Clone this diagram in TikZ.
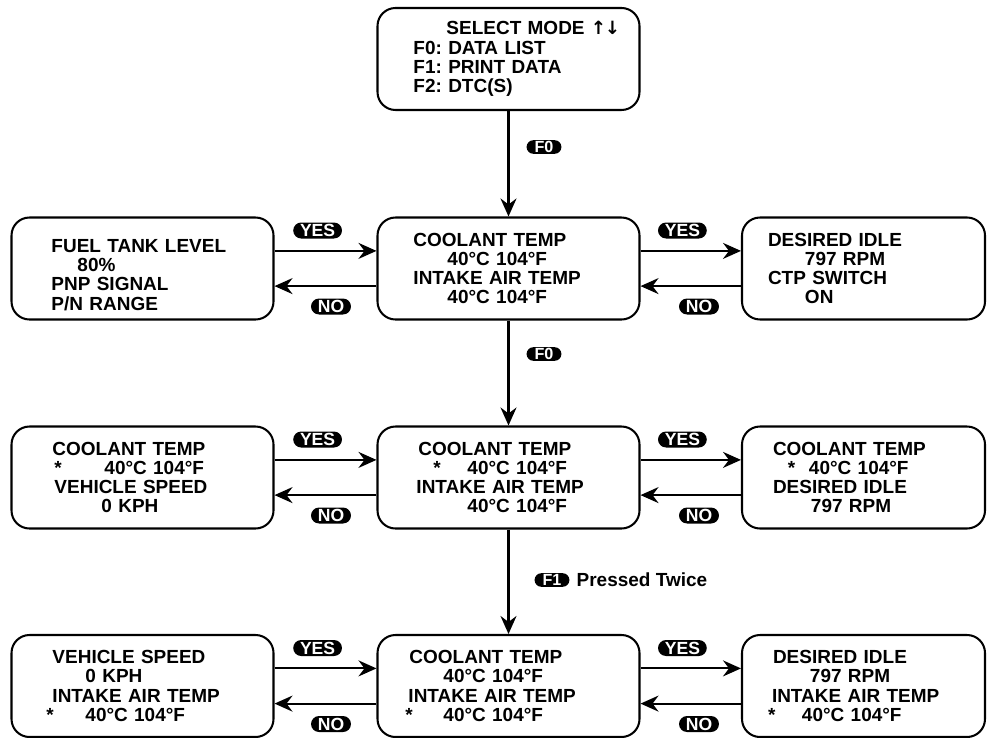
\documentclass[tikz,border=0pt]{standalone}
\usepackage{fontspec}
\setmainfont{Liberation Sans}
\newfontfamily\symfont{DejaVu Sans}
\usetikzlibrary{arrows.meta,positioning}
\frenchspacing
\newlength{\pxu}
\setlength{\pxu}{0.025cm}
\newcommand{\lpos}[2]{\makebox[0pt][l]{\hspace*{#1\pxu}#2}}
\tikzset{
  screen/.style={draw, line width=1.45pt, rounded corners=0.45cm, align=left,
    text width=6.55cm, minimum height=2.55cm, inner xsep=0pt,
    font=\fontsize{13.5}{13.7}\selectfont\bfseries},
  screenR/.style={screen, text width=6.075cm},
  key/.style={fill=black, text=white, rounded corners=0.2cm, inner xsep=0.17cm,
    inner ysep=0pt, minimum height=0.4cm, font=\fontsize{12.5}{12.5}\selectfont\bfseries},
  fkey/.style={key, minimum height=0.34cm, inner xsep=0.2cm, rounded corners=0.17cm,
    font=\fontsize{11.5}{11.5}\selectfont\bfseries},
  flow/.style={line width=1.45pt, -{Stealth[length=0.45cm,width=0.4cm,inset=0.15cm]}}
}
\begin{document}
\begin{tikzpicture}
  \useasboundingbox (0,0) rectangle (24.8,-18.45);

  % Mode menu
  \node[screen] (menu) at (12.7125,-1.475) {\lpos{69}{SELECT MODE {\symfont\fontsize{13}{13}\selectfont ↑\kern-1pt↓}}\\
    \lpos{36}{F0: DATA LIST}\\ \lpos{36}{F1: PRINT DATA}\\ \lpos{36}{F2: DTC(S)}};

  % Data list screens
  \node[screen] (dl1) at (3.5625,-6.7125) {\lpos{40}{\rule{0pt}{26\pxu}FUEL TANK LEVEL}\\ \lpos{66}{80\%}\\
    \lpos{40}{PNP SIGNAL}\\ \lpos{40}{P/N RANGE}};
  \node[screen] (dc1) at (12.7125,-6.7125) {\lpos{36}{COOLANT TEMP}\\ \lpos{70}{40°C 104°F}\\
    \lpos{36}{INTAKE AIR TEMP}\\ \lpos{70}{40°C 104°F}};
  \node[screenR] (dr1) at (21.5875,-6.7125) {\lpos{26}{DESIRED IDLE}\\ \lpos{63}{797 RPM}\\
    \lpos{26}{CTP SWITCH}\\ \lpos{63}{ON}};

  % Selected item screens
  \node[screen] (dl2) at (3.5625,-11.9375) {\lpos{41}{COOLANT TEMP}\\ \lpos{43}{*}\lpos{93}{40°C 104°F}\\
    \lpos{43}{VEHICLE SPEED}\\ \lpos{90}{0 KPH}};
  \node[screen] (dc2) at (12.7125,-11.9375) {\lpos{41}{COOLANT TEMP}\\ \lpos{56}{*}\lpos{90}{40°C 104°F}\\
    \lpos{39}{INTAKE AIR TEMP}\\ \lpos{90}{40°C 104°F}};
  \node[screenR] (dr2) at (21.5875,-11.9375) {\lpos{31}{COOLANT TEMP}\\ \lpos{46}{*}\lpos{67}{40°C 104°F}\\
    \lpos{31}{DESIRED IDLE}\\ \lpos{69}{797 RPM}};

  % Print screens
  \node[screen] (dl3) at (3.5625,-17.15) {\lpos{41}{VEHICLE SPEED}\\ \lpos{74}{0 KPH}\\
    \lpos{41}{INTAKE AIR TEMP}\\ \lpos{35}{*}\lpos{74}{40°C 104°F}};
  \node[screen] (dc3) at (12.7125,-17.15) {\lpos{32}{COOLANT TEMP}\\ \lpos{66}{40°C 104°F}\\
    \lpos{31}{INTAKE AIR TEMP}\\ \lpos{28}{*}\lpos{66}{40°C 104°F}};
  \node[screenR] (dr3) at (21.5875,-17.15) {\lpos{31}{DESIRED IDLE}\\ \lpos{68}{797 RPM}\\
    \lpos{30}{INTAKE AIR TEMP}\\ \lpos{26}{*}\lpos{60}{40°C 104°F}};

  % Vertical flow
  \draw[flow] (menu) -- (dc1);
  \draw[flow] (dc1) -- (dc2);
  \draw[flow] (dc2) -- (dc3);
  \node[fkey] (f0a) at (13.6,-3.675) {F0};
  \node[fkey] (f0b) at (13.6,-8.85) {F0};
  \node[fkey] (f1) at (13.8,-14.5) {F1};
  \node[font=\fontsize{13.5}{13.5}\selectfont\bfseries, right=0.05cm of f1] (twice) {Pressed Twice};

  % YES / NO arrows
  \draw[flow] ([yshift=0.44cm]dl1.east) -- ([yshift=0.44cm]dc1.west);
  \draw[flow] ([yshift=-0.44cm]dc1.west) -- ([yshift=-0.44cm]dl1.east);
  \draw[flow] ([yshift=0.44cm]dc1.east) -- ([yshift=0.44cm]dr1.west);
  \draw[flow] ([yshift=-0.44cm]dr1.west) -- ([yshift=-0.44cm]dc1.east);
  \draw[flow] ([yshift=0.44cm]dl2.east) -- ([yshift=0.44cm]dc2.west);
  \draw[flow] ([yshift=-0.44cm]dc2.west) -- ([yshift=-0.44cm]dl2.east);
  \draw[flow] ([yshift=0.44cm]dc2.east) -- ([yshift=0.44cm]dr2.west);
  \draw[flow] ([yshift=-0.44cm]dr2.west) -- ([yshift=-0.44cm]dc2.east);
  \draw[flow] ([yshift=0.44cm]dl3.east) -- ([yshift=0.44cm]dc3.west);
  \draw[flow] ([yshift=-0.44cm]dc3.west) -- ([yshift=-0.44cm]dl3.east);
  \draw[flow] ([yshift=0.44cm]dc3.east) -- ([yshift=0.44cm]dr3.west);
  \draw[flow] ([yshift=-0.44cm]dr3.west) -- ([yshift=-0.44cm]dc3.east);

  % Key badges
  \node[key] (yl1) at (7.94,-5.7625) {YES};
  \node[key] (nl1) at (8.275,-7.6625) {NO};
  \node[key] (yr1) at (17.06,-5.7625) {YES};
  \node[key] (nr1) at (17.475,-7.6625) {NO};
  \node[key] (yl2) at (7.94,-10.9875) {YES};
  \node[key] (nl2) at (8.275,-12.8875) {NO};
  \node[key] (yr2) at (17.06,-10.9875) {YES};
  \node[key] (nr2) at (17.475,-12.8875) {NO};
  \node[key] (yl3) at (7.94,-16.2) {YES};
  \node[key] (nl3) at (8.275,-18.1) {NO};
  \node[key] (yr3) at (17.06,-16.2) {YES};
  \node[key] (nr3) at (17.475,-18.1) {NO};

\end{tikzpicture}
\end{document}
